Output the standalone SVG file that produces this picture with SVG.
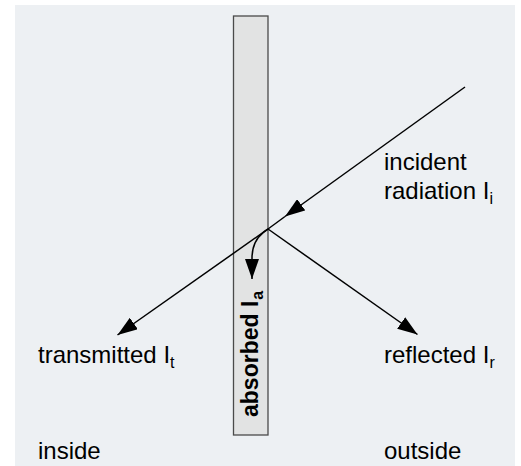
<svg xmlns="http://www.w3.org/2000/svg" width="521" height="466" viewBox="0 0 521 466">
<defs>
<style>
.lbl{font-family:"Liberation Sans",Arial,Helvetica,sans-serif;font-size:24px;fill:#000}
.sub{font-size:16px}
.bold{font-weight:bold;font-size:23px}
.ray{stroke:#000;stroke-width:1.5;fill:none}
</style>
<marker id="ah" viewBox="0 0 20 14" refX="20" refY="7" markerWidth="20" markerHeight="14" markerUnits="userSpaceOnUse" orient="auto">
<path d="M0,0 L20,7 L0,14 z" fill="#000"/>
</marker>
</defs>
<rect x="15" y="5" width="500" height="461" fill="#edf0f3"/>
<g id="wall">
<rect x="233.5" y="16" width="34.5" height="419" fill="#e2e3e3" stroke="#4a4a4a" stroke-width="1.3"/>
</g>
<g id="connectors">
<line class="ray" x1="465" y1="87" x2="285" y2="216.5" marker-end="url(#ah)"/>
<line class="ray" x1="285" y1="216.5" x2="268" y2="229"/>
<line class="ray" x1="268" y1="229" x2="117.5" y2="335" marker-end="url(#ah)"/>
<line class="ray" x1="268" y1="229" x2="417.5" y2="334.5" marker-end="url(#ah)"/>
<path class="ray" d="M268,229 C258,235 252,245 252,258 L252,279" marker-end="url(#ah)"/>
</g>
<g id="incident">
<text class="lbl" x="384" y="170">incident</text>
<text class="lbl" x="384" y="199">radiation I<tspan class="sub" dy="5">i</tspan></text>
</g>
<g id="transmitted">
<text class="lbl" x="38" y="363">transmitted I<tspan class="sub" dy="5">t</tspan></text>
</g>
<g id="reflected">
<text class="lbl" x="384" y="363">reflected I<tspan class="sub" dy="5">r</tspan></text>
</g>
<g id="absorbed">
<text class="lbl bold" transform="translate(258,417) rotate(-90)">absorbed I<tspan class="sub" dy="5" dx="1">a</tspan></text>
</g>
<g id="inside">
<text class="lbl" x="38" y="459">inside</text>
</g>
<g id="outside">
<text class="lbl" x="384" y="459">outside</text>
</g>
</svg>
